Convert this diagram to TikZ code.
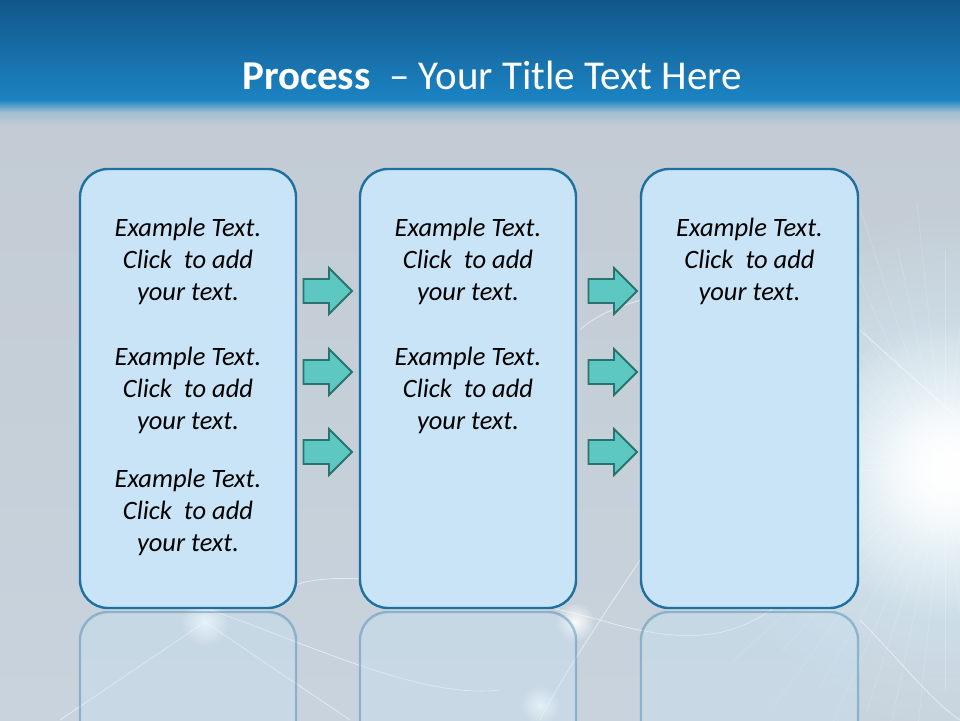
\documentclass[tikz,border=0pt]{standalone}
\usepackage{fontspec}
\setmainfont{Carlito}
\usetikzlibrary{fadings,calc}
\tikzfading[name=softglow, inner color=transparent!0, outer color=transparent!100]
\definecolor{topdark}{HTML}{12578A}
\definecolor{topmid}{HTML}{1B83C2}
\definecolor{bggray}{HTML}{C3CCD4}
\definecolor{bgbot}{HTML}{C8D3DD}
\definecolor{boxfill}{HTML}{C8E4F6}
\definecolor{boxline}{HTML}{1F6FA0}
\definecolor{arrfill}{HTML}{5CC8C1}
\definecolor{arrline}{HTML}{2A746F}
\tikzset{
  x=1pt,y=-1pt,
  panel/.style={draw=boxline,line width=2.4pt,fill=boxfill,rounded corners=28pt},
  mirror/.style={draw=boxline,draw opacity=0.35,line width=2.4pt,fill=boxfill,fill opacity=0.35,rounded corners=28pt},
  txt/.style={align=center,font=\fontsize{26.5}{32}\selectfont\itshape,text=black,inner sep=0pt},
  glint/.style={draw=white,line width=0.8pt,opacity=0.55},
  fatarrow/.pic={\draw[fill=arrfill,draw=arrline,line width=1.8pt,line join=miter]
     (-24,-12) -- (1.5,-12) -- (1.5,-23) -- (24.5,0) -- (1.5,23) -- (1.5,12) -- (-24,12) -- cycle;}
}
\begin{document}
\begin{tikzpicture}
\useasboundingbox (0,0) rectangle (960,720);
% background
\shade[top color=bggray,bottom color=bgbot] (0,125) rectangle (960,720);
\shade[top color=topdark,bottom color=topmid] (0,0) rectangle (960,100);
\shade[top color=topmid,bottom color=bggray!80!topmid] (0,100) rectangle (960,112);
\shade[top color=bggray!80!topmid,bottom color=bggray] (0,112) rectangle (960,126);
% glow on the right
\begin{scope}
\clip (0,126) rectangle (960,720);
\fill[white!85!cyan,path fading=softglow,opacity=0.8] (945,470) circle (260);
\foreach \a in {0,6,...,359}{
  \draw[white,opacity=0.22,line width=0.5pt] (945,470) -- ++(\a:{220+mod(\a*37,90)});
}
\fill[white,path fading=softglow,opacity=1] (950,470) circle (150);
\fill[white,path fading=softglow,opacity=0.9] (950,470) circle (80);
% glints
\draw[glint] (860,330) -- (960,420);
\draw[glint] (580,330) .. controls (610,300) and (700,280) .. (760,300);
\draw[glint] (296,585) .. controls (330,570) and (450,580) .. (600,620) .. controls (700,650) and (760,640) .. (820,560);
\draw[glint] (210,610) .. controls (300,640) and (420,700) .. (500,690);
\draw[glint] (60,720) -- (205,622) -- (350,720);
\draw[glint] (860,620) .. controls (900,660) and (930,700) .. (960,720);
\draw[glint] (640,560) .. controls (600,620) and (560,680) .. (540,720);
\fill[white,path fading=softglow,opacity=0.9] (205,622) circle (24);
\fill[white,path fading=softglow,opacity=0.9] (575,622) circle (20);
\fill[white,path fading=softglow,opacity=0.8] (540,705) circle (20);
\end{scope}
% title
\node[text=white,font=\fontsize{41}{44}\selectfont,inner sep=0pt] (title) at (492,75) {\textbf{Process}~ – Your Title Text Here};
% reflections
\begin{scope}
\clip (0,611) rectangle (960,720);
\draw[mirror] (80,612) rectangle (296,1050);
\draw[mirror] (360,612) rectangle (576,1050);
\draw[mirror] (641,612) rectangle (858,1050);
\end{scope}
% panels
\node[panel,minimum width=216pt,minimum height=439pt] (p1) at (188,388.5) {};
\node[panel,minimum width=216pt,minimum height=439pt] (p2) at (468,388.5) {};
\node[panel,minimum width=217pt,minimum height=439pt] (p3) at (749.5,388.5) {};
% arrows
\foreach \y [count=\i] in {291,372,452}{
  \pic (al\i) at (327.5,\y) {fatarrow};
  \pic (ar\i) at (612.5,\y) {fatarrow};
}
% texts
\def\ex{Example Text.\\Click~ to add\\your text.}
\node[txt] (t11) at (188,261) {\ex};
\node[txt] (t12) at (188,390) {\ex};
\node[txt] (t13) at (188,512) {\ex};
\node[txt] (t21) at (468,261) {\ex};
\node[txt] (t22) at (468,390) {\ex};
\node[txt] (t31) at (749.5,261) {\ex};
\end{tikzpicture}
\end{document}
